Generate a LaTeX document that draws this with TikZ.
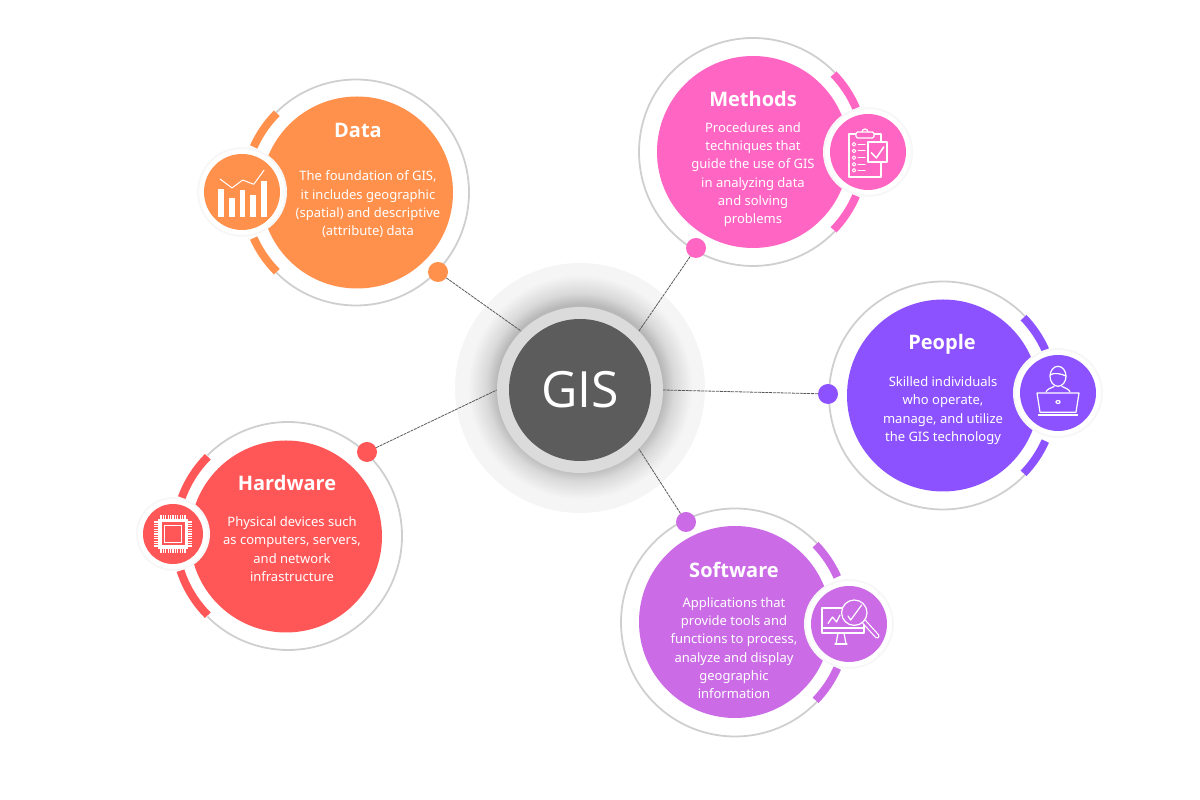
\documentclass[tikz,border=0pt]{standalone}
\usepackage{fontspec}
\setmainfont{Noto Sans}
\newfontfamily\gisfont{Open Sans}
\definecolor{datacol}{HTML}{FF914D}
\definecolor{methodcol}{HTML}{FF66C4}
\definecolor{peoplecol}{HTML}{8C52FF}
\definecolor{softcol}{HTML}{CB6CE6}
\definecolor{hardcol}{HTML}{FF5757}
\definecolor{ringcol}{HTML}{CFCFCF}
\pgfdeclareradialshading{gisglow}{\pgfpoint{0bp}{0bp}}{rgb(0bp)=(0.72,0.72,0.72); rgb(18.5bp)=(0.72,0.72,0.72); rgb(21bp)=(0.85,0.85,0.85); rgb(25bp)=(0.96,0.96,0.96); rgb(50bp)=(0.96,0.96,0.96)}

\begin{document}
\begin{tikzpicture}[x=1pt,y=1pt,
  disc/.style={circle,inner sep=0pt,minimum size=192pt,fill=#1},
  halo/.style={circle,inner sep=0pt,minimum size=88pt,fill=white,draw=black!3,line width=2pt},
  badge/.style={circle,inner sep=0pt,minimum size=76pt,fill=#1},
  dot/.style={circle,inner sep=0pt,minimum size=20pt,fill=#1},
  ringline/.style={draw=ringcol,line width=1.8pt},
  band/.style={draw=#1,line width=8pt},
  title/.style={text=white,font=\gisfont\bfseries\fontsize{20}{24}\selectfont},
  body/.style={text=white,align=center,font=\fontsize{13}{18.3}\selectfont},
  link/.style={draw=black!65,line width=0.8pt,dash pattern=on 3pt off 0.8pt},
  glyph/.style={draw=white,line width=1.2pt,line join=round,line cap=round}]
\useasboundingbox (0,0) rectangle (1200,800);

\node [circle,inner sep=0pt,minimum size=250pt,fill=black!4] (halo) at (580,412) {};
\shade [shading=gisglow] (580,413) circle (112);
\node [circle,inner sep=0pt,minimum size=166pt,fill=black!14] (gis) at (580,410) {};
\node [circle,inner sep=0pt,minimum size=142pt,fill=black!64,text=white,font=\gisfont\fontsize{50}{60}\selectfont] (core) at (580,410) {GIS};

\draw [ringline] (356,607.5) ++(135:113) arc [start angle=135,end angle=-135,radius=113];
\draw [band=datacol] (356,607.5) ++(135:112) arc [start angle=135,end angle=156,radius=112];
\draw [band=datacol] (356,607.5) ++(204:112) arc [start angle=204,end angle=225,radius=112];
\node [disc=datacol] (data) at (357,607.5) {};
\node [halo] (datahalo) at (242,608) {};
\node [badge=datacol] (databadge) at (242,608) {};
\node [dot=datacol] (datadot) at (438,528) {};
\node [title] (datatitle) at (358,670) {Data};
\node [body] (datatext) at (368,595.5) {The foundation of GIS,\\it includes geographic\\(spatial) and descriptive\\(attribute) data};
\begin{scope}[shift={(databadge.center)}]
\foreach \x/\y in {-21/2.7,-10/-5.7,0.7/1.7,11/-2.7,22/11}
  \fill [white] (\x-2.7,-25) rectangle (\x+2.7,\y);
\draw [glyph,line width=1pt] (-22,13) -- (-10,4) -- (0.7,12) -- (11.7,7.7) -- (22,21.7);
\end{scope}

\draw [ringline] (753,648) ++(-44:114) arc [start angle=-44,end angle=-316,radius=114];
\draw [band=methodcol] (753,648) ++(44:112) arc [start angle=44,end angle=23,radius=112];
\draw [band=methodcol] (753,648) ++(-44:112) arc [start angle=-44,end angle=-23,radius=112];
\node [disc=methodcol] (methods) at (753,648) {};
\node [halo] (methodshalo) at (868,648) {};
\node [badge=methodcol] (methodsbadge) at (868,648) {};
\node [dot=methodcol] (methodsdot) at (696,552) {};
\node [title] (methodstitle) at (753,701) {Methods};
\node [body] (methodstext) at (753,625.5) {Procedures and\\techniques that\\guide the use of GIS\\in analyzing data\\and solving\\problems};
\begin{scope}[shift={(methodsbadge.center)}]
\draw [glyph] (-19,18) rectangle (13,-25);
\draw [glyph,fill=methodcol,rounded corners=1.5pt] (-12,20) rectangle (6,14);
\draw [glyph] (-6,20) arc [start angle=180,end angle=0,radius=3];
\draw [glyph,fill=methodcol] (0,10) rectangle (19,-10);
\draw [glyph,line width=1.5pt] (3.3,-0.7) -- (8.3,-6) -- (15.7,5);
\foreach \y in {7.7,1,-5.7,-12.3,-18.3}{
  \draw [glyph,line width=1pt] (-14,\y) circle (1.8);
  \draw [glyph,line width=1pt] (-10,\y) -- (-3,\y);
}
\end{scope}

\draw [ringline] (943,404.5) ++(-44:114) arc [start angle=-44,end angle=-316,radius=114];
\draw [band=peoplecol] (943,404.5) ++(44:112) arc [start angle=44,end angle=24,radius=112];
\draw [band=peoplecol] (943,404.5) ++(-44:112) arc [start angle=-44,end angle=-24,radius=112];
\node [disc=peoplecol] (people) at (943,404.5) {};
\node [halo] (peoplehalo) at (1058,407) {};
\node [badge=peoplecol] (peoplebadge) at (1058,407) {};
\node [dot=peoplecol] (peopledot) at (828,406) {};
\node [title] (peopletitle) at (942,456) {People};
\node [body] (peopletext) at (943,389.5) {Skilled individuals\\who operate,\\manage, and utilize\\the GIS technology};
\begin{scope}[shift={(peoplebadge.center)}]
\draw [glyph] (0,16.7) ellipse (8 and 10);
\draw [glyph] (-8,18) .. controls (-4,21) and (4,19) .. (8,17);
\draw [glyph] (-12,1) .. controls (-11,4) and (-7,5) .. (-4,6.5);
\draw [glyph] (12,1) .. controls (11,4) and (7,5) .. (4,6.5);
\draw [glyph,fill=peoplecol] (-21,0) -- (21,0) -- (18,-19.3) -- (-18,-19.3) -- cycle;
\draw [glyph] (-19.5,-22) -- (19.5,-22);
\draw [glyph] (0,-9) ellipse (2 and 1.5);
\end{scope}

\draw [ringline] (735,177.5) ++(-44:114) arc [start angle=-44,end angle=-316,radius=114];
\draw [band=softcol] (735,177.5) ++(44:112) arc [start angle=44,end angle=24,radius=112];
\draw [band=softcol] (735,177.5) ++(-44:112) arc [start angle=-44,end angle=-24,radius=112];
\node [disc=softcol] (software) at (735,178) {};
\node [halo] (softwarehalo) at (849,176) {};
\node [badge=softcol] (softwarebadge) at (849,176) {};
\node [dot=softcol] (softwaredot) at (686,278) {};
\node [title] (softwaretitle) at (734,230) {Software};
\node [body] (softwaretext) at (734,152) {Applications that\\provide tools and\\functions to process,\\analyze and display\\geographic\\information};
\begin{scope}[shift={(softwarebadge.center)}]
\draw [glyph] (-27,16) rectangle (15,-9);
\draw [glyph] (-27,-4) -- (15,-4);
\draw [glyph] (-11,-9) -- (-13,-20) -- (-3,-20) -- (-5,-9);
\draw [glyph] (-14,-20) -- (-2,-20);
\draw [glyph] (-21,0.5) -- (-16.5,7) -- (-12.5,2) -- (-9,9);
\draw [glyph,line width=5pt] (15,2.3) -- (28,-12);
\draw [draw=softcol,line width=2.6pt,line cap=round] (15,2.3) -- (28,-12);
\draw [glyph,fill=softcol] (5.3,11.3) circle (12.7);
\draw [glyph] (-1,8) -- (1.7,4) -- (12.7,19);
\end{scope}

\draw [ringline] (288,264) ++(135:114) arc [start angle=135,end angle=-135,radius=114];
\draw [band=hardcol] (287,264) ++(135:112) arc [start angle=135,end angle=160,radius=112];
\draw [band=hardcol] (287,264) ++(198:112) arc [start angle=198,end angle=225,radius=112];
\node [disc=hardcol] (hardware) at (286,263.5) {};
\node [halo,minimum size=72pt] (hardwarehalo) at (173,266) {};
\node [badge=hardcol,minimum size=60pt] (hardwarebadge) at (173,266) {};
\node [dot=hardcol] (hardwaredot) at (367,348) {};
\node [title] (hardwaretitle) at (287,317) {Hardware};
\node [body] (hardwaretext) at (292,251) {Physical devices such\\as computers, servers,\\and network\\infrastructure};
\begin{scope}[shift={(hardwarebadge.center)}]
\foreach \t in {-12,-9.6,...,12.1}{
  \draw [white,line width=1.2pt] (\t,-19) -- (\t,19);
  \draw [white,line width=1.2pt] (-19,\t) -- (19,\t);
}
\fill [white] (-15,-15) rectangle (15,15);
\fill [hardcol] (-11.5,-11.5) rectangle (11.5,11.5);
\draw [white,line width=1.2pt] (-8.5,-8.5) rectangle (8.5,8.5);
\end{scope}

\draw [link] (datadot) -- (gis.135);
\draw [link] (methodsdot) -- (gis.45);
\draw [link] (peopledot) -- (gis.0);
\draw [link] (softwaredot) -- (gis.-45);
\draw [link] (hardwaredot) -- (gis.180);
\end{tikzpicture}
\end{document}
